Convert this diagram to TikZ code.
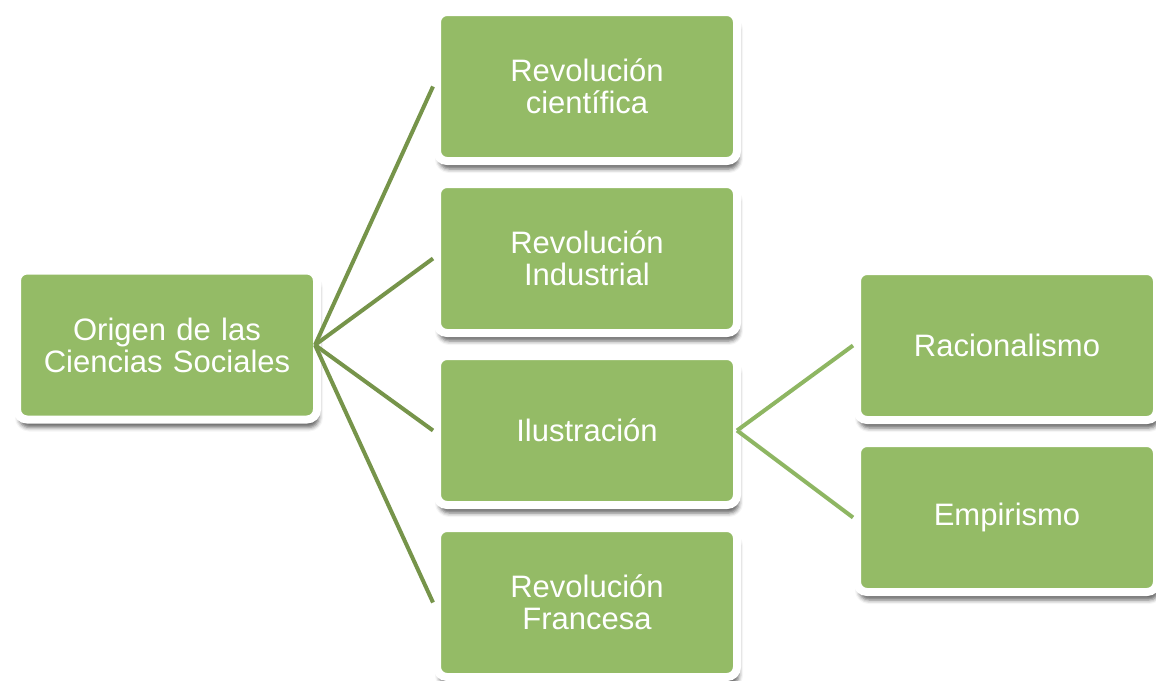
\documentclass[tikz,border=0pt]{standalone}
\usepackage{fontspec}
\setmainfont{Liberation Sans}
\usetikzlibrary{positioning}
\usetikzlibrary{shadows.blur}
\definecolor{boxgreen}{RGB}{148,187,102}
\definecolor{linkdark}{RGB}{118,148,74}
\definecolor{linklight}{RGB}{142,182,98}

\begin{document}
\begin{tikzpicture}[x=1pt, y=1pt, font=\fontsize{31}{32}\selectfont, node distance=15pt and 112pt]
    \tikzstyle{block}=[draw=white, line width=8pt, fill=boxgreen, rounded corners=10pt, minimum width=300pt, minimum height=149pt, text width=280pt, align=center, text=white, blur shadow={shadow xshift=2pt, shadow yshift=-8pt, shadow blur radius=4pt, shadow opacity=60}]
    \tikzstyle{link}=[line width=4pt, draw=linkdark]

    \useasboundingbox (0,0) rectangle (1156,-680);

    %% Root
    \node[block] (origen) at (167,-345) {Origen de las\\Ciencias Sociales};

    %% First level
    \node[block, right=of origen, yshift=-85.5pt] (ilus) {Ilustraci\'on};
    \node[block, above=of ilus] (revind) {Revoluci\'on\\Industrial};
    \node[block, above=of revind] (revcien) {Revoluci\'on\\cient\'ifica};
    \node[block, below=of ilus] (revfr) {Revoluci\'on\\Francesa};

    %% Second level
    \node[block, right=of ilus, yshift=85pt] (racio) {Racionalismo};
    \node[block, below=of racio] (empir) {Empirismo};

    \coordinate (hub1) at ([xshift=-6pt]origen.east);
    \coordinate (hub2) at ([xshift=-4pt]ilus.east);

    \draw[link] (hub1) -- (revcien.west);
    \draw[link] (hub1) -- (revind.west);
    \draw[link] (hub1) -- (ilus.west);
    \draw[link] (hub1) -- (revfr.west);

    \draw[link, draw=linklight] (hub2) -- (racio.west);
    \draw[link, draw=linklight] (hub2) -- (empir.west);
\end{tikzpicture}
\end{document}
